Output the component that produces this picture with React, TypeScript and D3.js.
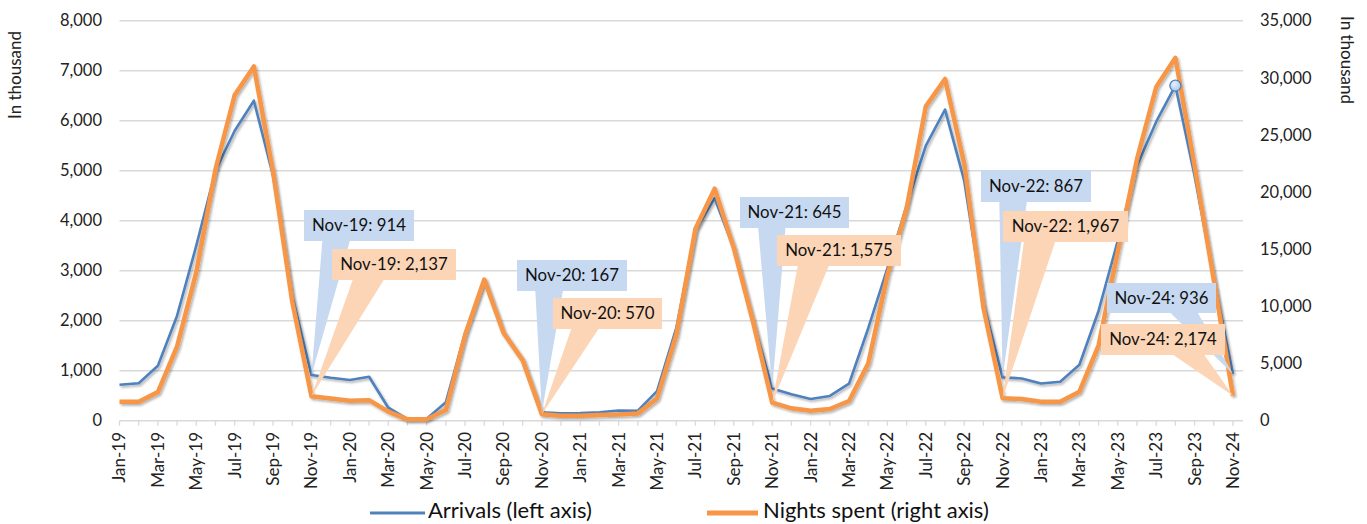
import React from "react";
import * as d3 from "d3";

const categories = [
  "Jan-19","Feb-19","Mar-19","Apr-19","May-19","Jun-19","Jul-19","Aug-19","Sep-19","Oct-19","Nov-19","Dec-19",
  "Jan-20","Feb-20","Mar-20","Apr-20","May-20","Jun-20","Jul-20","Aug-20","Sep-20","Oct-20","Nov-20","Dec-20",
  "Jan-21","Feb-21","Mar-21","Apr-21","May-21","Jun-21","Jul-21","Aug-21","Sep-21","Oct-21","Nov-21","Dec-21",
  "Jan-22","Feb-22","Mar-22","Apr-22","May-22","Jun-22","Jul-22","Aug-22","Sep-22","Oct-22","Nov-22","Dec-22",
  "Jan-23","Feb-23","Mar-23","Apr-23","May-23","Jun-23","Jul-23","Aug-23","Sep-23","Oct-23","Nov-24"
];

const arrivals = [
  720, 750, 1100, 2100, 3500, 5000, 5800, 6400, 4900, 2500, 914, 860,
  815, 880, 260, 30, 40, 370, 1750, 2830, 1760, 1210, 167, 150,
  155, 170, 205, 200, 590, 1850, 3800, 4450, 3450, 2000, 645, 530,
  435, 495, 740, 1850, 3050, 4300, 5500, 6220, 4800, 2350, 867, 845,
  745, 780, 1120, 2200, 3600, 5100, 5980, 6700, 4900, 2850, 936
];

const nights = [
  1650, 1650, 2500, 6500, 13000, 22000, 28500, 31000, 21800, 10400, 2137, 1950,
  1750, 1800, 790, 120, 130, 930, 7500, 12350, 7700, 5300, 570, 440,
  440, 500, 550, 640, 1950, 7500, 16800, 20300, 15100, 8650, 1575, 1080,
  875, 1020, 1720, 5000, 12750, 18600, 27500, 29900, 22500, 9900, 1967, 1900,
  1660, 1660, 2540, 6600, 14800, 22900, 29200, 31750, 22300, 12300, 2174
];

const leftTicks = [0, 1000, 2000, 3000, 4000, 5000, 6000, 7000, 8000];
const rightTicks = [0, 5000, 10000, 15000, 20000, 25000, 30000, 35000];

const seriesNames = ["Arrivals (left axis)", "Nights spent (right axis)"];
const axisTitle = "In thousand";

// callouts: category, series, box layout (x, y, w, h)
const calloutCats = ["Nov-19", "Nov-20", "Nov-21", "Nov-22", "Nov-24"];
const blueBoxes = [
  [304, 210, 110, 31],
  [517, 260, 110, 31],
  [740, 197, 109, 31],
  [981, 170, 110, 32],
  [1107, 283, 109, 30],
];
const orangeBoxes = [
  [332, 249, 124, 31],
  [553, 298, 109, 31],
  [777, 235, 124, 31],
  [1003, 211, 125, 31],
  [1101, 324, 124, 31],
];
const markerCat = "Aug-23";

const W = 1367;
const H = 524;
const FONT = "Lato, 'Open Sans', sans-serif";
const BLUE = "#4F81BD";
const ORANGE = "#F79646";
const BLUE_FILL = "#C6D9F1";
const ORANGE_FILL = "#FBD5B5";

const x = d3.scaleLinear().domain([0, categories.length - 1]).range([119.5, 1233]);
const yL = d3.scaleLinear().domain([0, 8000]).range([420.7, 20.7]);
const yR = d3.scaleLinear().domain([0, 35000]).range([420.7, 20.7]);

const fmt = d3.format(",");

function wedgePath(box: number[], tx: number, ty: number) {
  const [bx, by, bw, bh] = box;
  const cx = bx + bw / 2;
  const b = by + bh;
  const a1 = tx < cx ? bx + bw / 6 : bx + (bw * 7) / 12;
  const a2 = tx < cx ? bx + (bw * 5) / 12 : bx + (bw * 5) / 6;
  return `M${bx},${by}L${bx + bw},${by}L${bx + bw},${b}L${a2},${b}L${tx},${ty}L${a1},${b}L${bx},${b}Z`;
}

export default function App() {
  const lineL = d3.line<number>().x((_, i) => x(i)).y((d) => yL(d));
  const lineR = d3.line<number>().x((_, i) => x(i)).y((d) => yR(d));
  const mi = categories.indexOf(markerCat);

  return (
    <svg width={W} height={H} style={{ position: "absolute", left: 0, top: 0, background: "#fff" }}>
      <defs>
        <filter id="sh" x="-5%" y="-5%" width="110%" height="110%">
          <feDropShadow dx="1.5" dy="1.8" stdDeviation="1" floodColor="#000" floodOpacity="0.3" />
        </filter>
        <radialGradient id="mk" cx="40%" cy="35%" r="70%">
          <stop offset="0%" stopColor="#E8F0FA" />
          <stop offset="100%" stopColor="#A9C5EA" />
        </radialGradient>
      </defs>

      {/* gridlines */}
      {leftTicks.map((t) => (
        <line key={"g" + t} x1={119.5} x2={1243} y1={yL(t)} y2={yL(t)} stroke="#D9D9D9" strokeWidth={1.5} />
      ))}
      {/* category ticks */}
      {categories.map((c, i) => (
        <line key={"t" + c} x1={x(i)} x2={x(i)} y1={yL(0)} y2={yL(0) + 5} stroke="#D9D9D9" strokeWidth={1.3} />
      ))}

      {/* left axis labels */}
      {leftTicks.map((t) => (
        <text key={"l" + t} x={102} y={yL(t)} dy="0.35em" textAnchor="end" fontFamily={FONT} fontSize={16.5} fill="#222">
          {fmt(t)}
        </text>
      ))}
      {rightTicks.map((t) => (
        <text key={"r" + t} x={1260} y={yR(t)} dy="0.35em" textAnchor="start" fontFamily={FONT} fontSize={16.5} fill="#222">
          {fmt(t)}
        </text>
      ))}
      {/* category labels */}
      {categories.map((c, i) =>
        i % 2 === 0 ? (
          <text
            key={"c" + c}
            transform={`translate(${x(i)},432) rotate(-90)`}
            dy="0.35em"
            textAnchor="end"
            fontFamily={FONT}
            fontSize={17}
            fill="#222"
          >
            {c}
          </text>
        ) : null
      )}

      {/* axis titles */}
      <text transform="translate(15,75) rotate(-90)" dy="0.35em" textAnchor="middle" fontFamily={FONT} fontSize={17} fill="#222">
        {axisTitle}
      </text>
      <text transform="translate(1347,60) rotate(90)" dy="0.35em" textAnchor="middle" fontFamily={FONT} fontSize={17} fill="#222">
        {axisTitle}
      </text>

      {/* lines */}
      <path d={lineL(arrivals) || ""} fill="none" stroke={BLUE} strokeWidth={2.6} strokeLinejoin="round" filter="url(#sh)" />
      <path d={lineR(nights) || ""} fill="none" stroke={ORANGE} strokeWidth={4.5} strokeLinejoin="round" filter="url(#sh)" />
      <circle cx={x(mi)} cy={yL(arrivals[mi])} r={5.5} fill="url(#mk)" stroke={BLUE} strokeWidth={1.3} />

      {/* callouts */}
      {calloutCats.map((c, k) => {
        const i = categories.indexOf(c);
        const bb = blueBoxes[k];
        const ob = orangeBoxes[k];
        return (
          <g key={"co" + c}>
            <path d={wedgePath(bb, x(i), yL(arrivals[i]))} fill={BLUE_FILL} />
            <text x={bb[0] + bb[2] / 2} y={bb[1] + bb[3] / 2} dy="0.35em" textAnchor="middle" fontFamily={FONT} fontSize={16.8} fill="#111">
              {`${c}: ${fmt(arrivals[i])}`}
            </text>
            <path d={wedgePath(ob, x(i), yR(nights[i]))} fill={ORANGE_FILL} />
            <text x={ob[0] + ob[2] / 2} y={ob[1] + ob[3] / 2} dy="0.35em" textAnchor="middle" fontFamily={FONT} fontSize={16.8} fill="#111">
              {`${c}: ${fmt(nights[i])}`}
            </text>
          </g>
        );
      })}

      {/* legend */}
      <line x1={370} x2={425} y1={513} y2={513} stroke={BLUE} strokeWidth={3} />
      <text x={428} y={518} fontFamily={FONT} fontSize={22} fill="#111">
        {seriesNames[0]}
      </text>
      <line x1={707} x2={758} y1={513} y2={513} stroke={ORANGE} strokeWidth={5} />
      <text x={763} y={518} fontFamily={FONT} fontSize={22} fill="#111">
        {seriesNames[1]}
      </text>
    </svg>
  );
}
